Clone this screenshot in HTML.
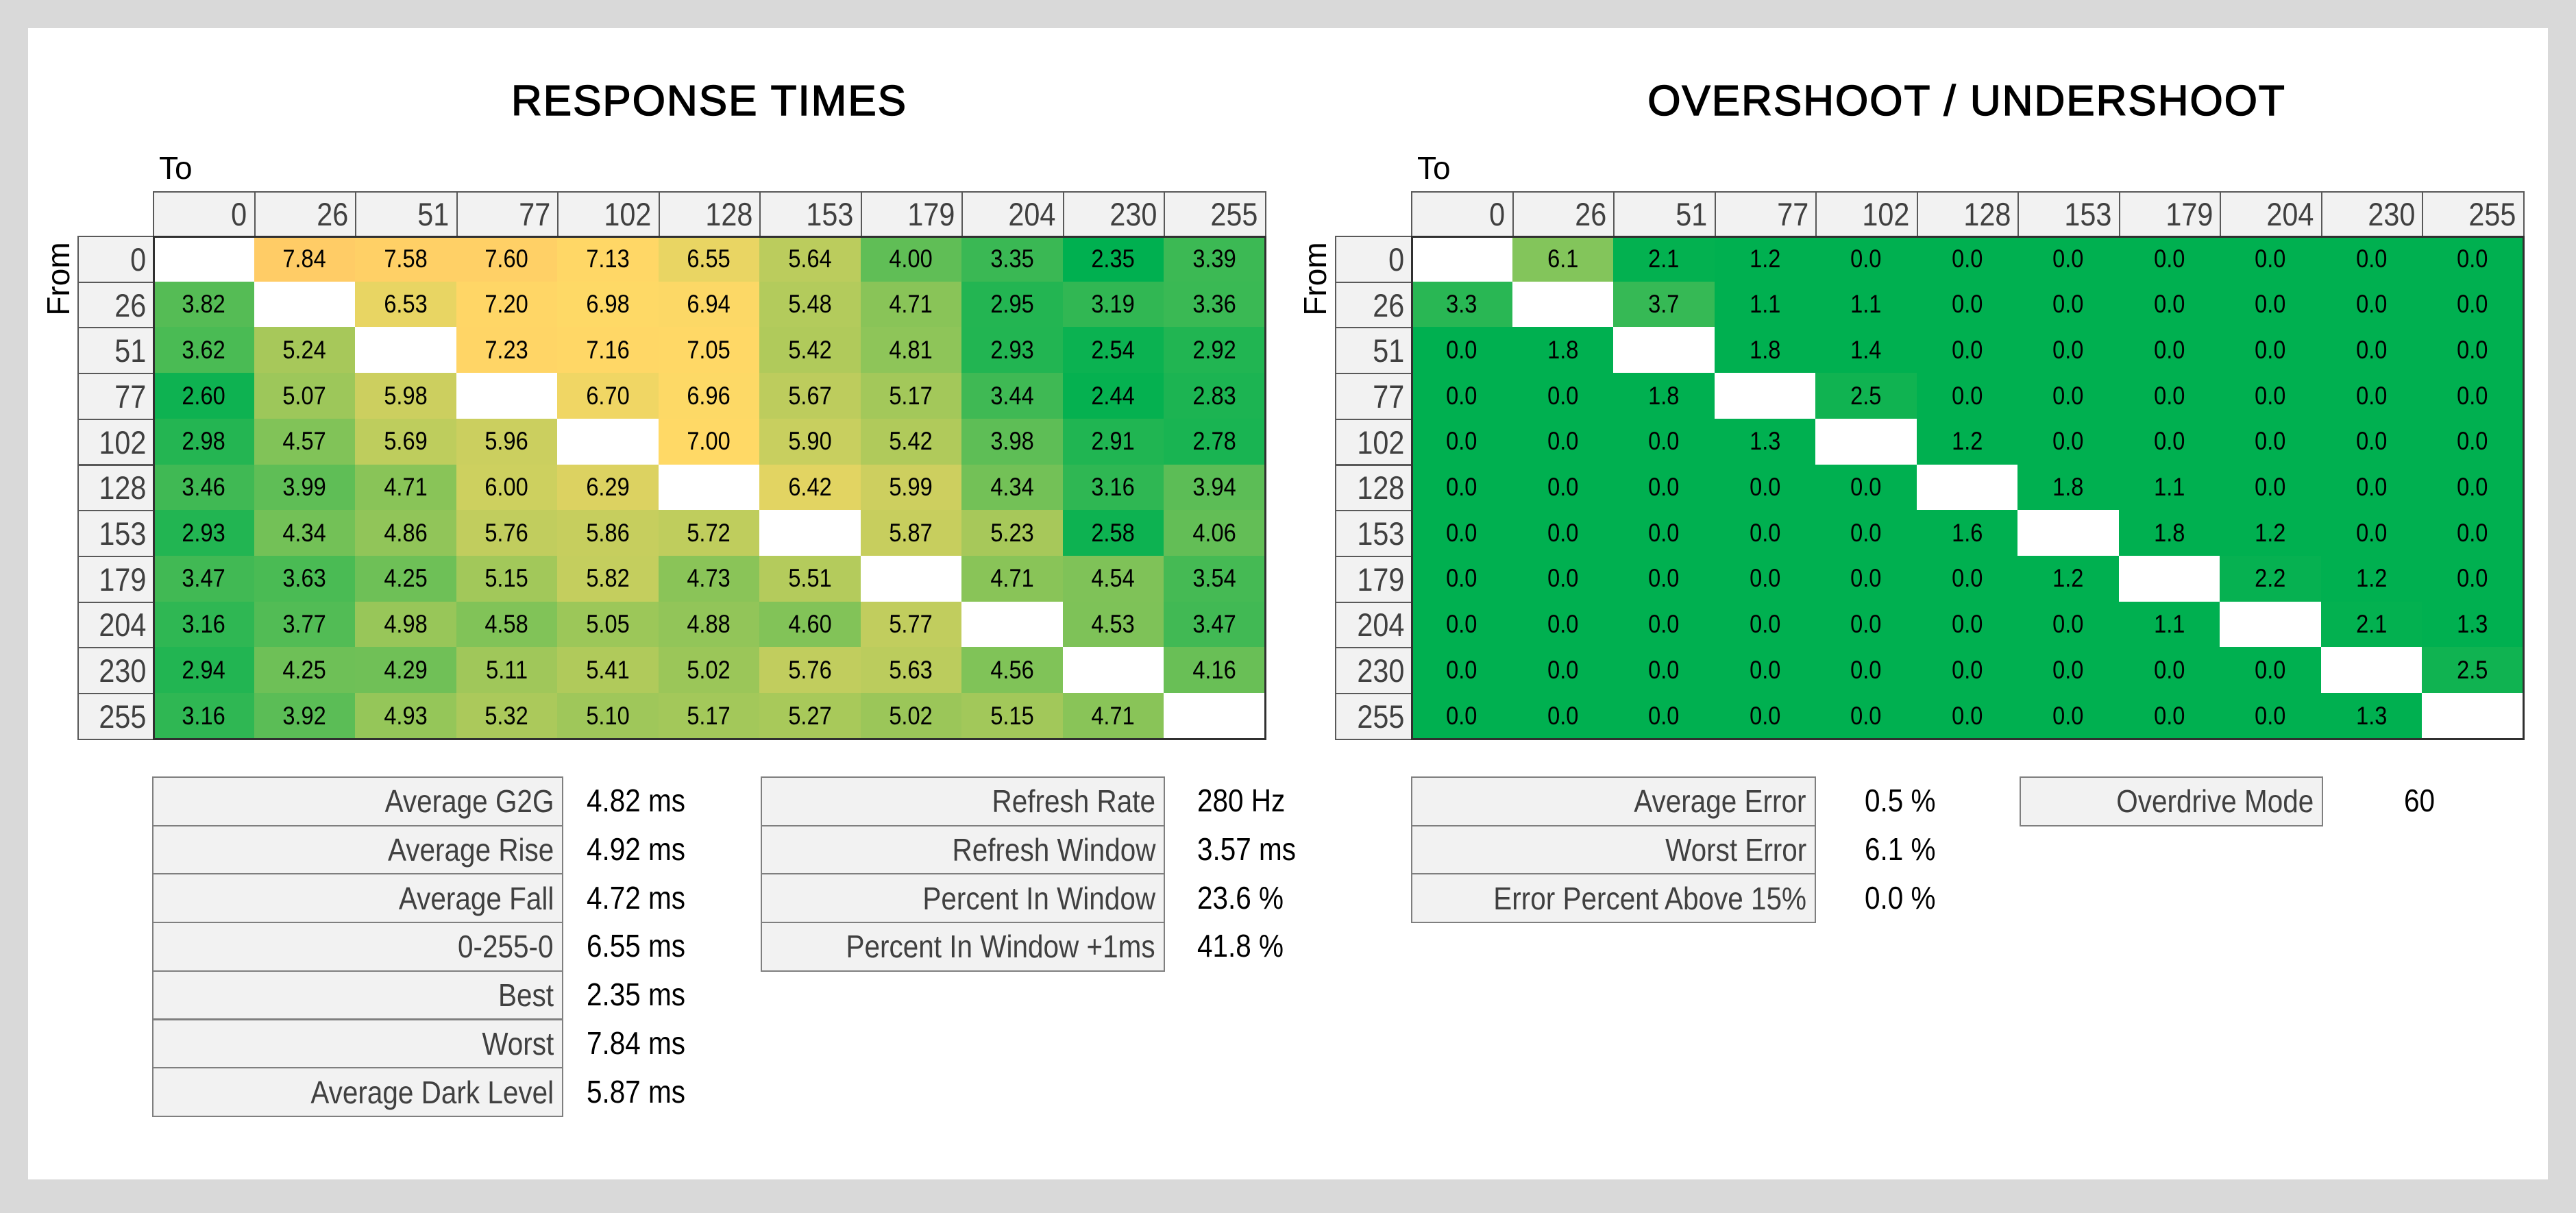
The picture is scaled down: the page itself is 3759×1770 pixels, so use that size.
<!DOCTYPE html>
<html><head><meta charset="utf-8">
<style>
html,body{margin:0;padding:0;}
body{width:3759px;height:1770px;background:#d9d9d9;position:relative;overflow:hidden;font-family:"Liberation Sans Narrow","Liberation Sans",sans-serif;}
#panel{position:absolute;left:41px;top:41px;width:3677px;height:1680px;background:#fff;}
.abs{position:absolute;box-sizing:border-box;}
.title{font-size:62px;font-weight:normal;color:#000;text-align:center;width:1400px;top:112px;letter-spacing:2px;-webkit-text-stroke:1.5px #000;}
.axis{font-size:46px;color:#000;}
.hdr{background:#f2f2f2;border:2px solid #595959;color:#404040;font-size:47px;text-align:right;padding-right:10px;display:flex;align-items:center;justify-content:flex-end;}
.cell{font-size:37px;color:#000;display:flex;align-items:center;justify-content:center;}
.frame{border:3px solid #303030;}
.lab{background:#f2f2f2;border:2px solid #7f7f7f;color:#404040;font-size:46px;display:flex;align-items:center;justify-content:flex-end;padding-right:12px;}
.val{font-size:46px;color:#000;display:flex;align-items:center;}
.sq{display:inline-block;transform:scaleX(0.88);transform-origin:center;}
.lab .sq{transform-origin:right center;}
.val .sq{transform-origin:left center;}
.hdr .sq{transform-origin:right center;}
</style></head>
<body>
<div id="panel"></div>
<div class="abs title" style="left:335px">RESPONSE TIMES</div>
<div class="abs title" style="left:2170px">OVERSHOOT / UNDERSHOOT</div>
<div class="abs axis" style="left:232px;top:218px">To</div>
<div class="abs axis" style="left:2068px;top:218px">To</div>
<div class="abs axis" style="left:30px;top:380px;width:110px;text-align:center;transform:rotate(-90deg)">From</div>
<div class="abs axis" style="left:1864px;top:380px;width:110px;text-align:center;transform:rotate(-90deg)">From</div>
<div id="root"></div>
<script>
const levels=["0","26","51","77","102","128","153","179","204","230","255"];
const rtValues=[
[null,7.84,7.58,7.60,7.13,6.55,5.64,4.00,3.35,2.35,3.39],
[3.82,null,6.53,7.20,6.98,6.94,5.48,4.71,2.95,3.19,3.36],
[3.62,5.24,null,7.23,7.16,7.05,5.42,4.81,2.93,2.54,2.92],
[2.60,5.07,5.98,null,6.70,6.96,5.67,5.17,3.44,2.44,2.83],
[2.98,4.57,5.69,5.96,null,7.00,5.90,5.42,3.98,2.91,2.78],
[3.46,3.99,4.71,6.00,6.29,null,6.42,5.99,4.34,3.16,3.94],
[2.93,4.34,4.86,5.76,5.86,5.72,null,5.87,5.23,2.58,4.06],
[3.47,3.63,4.25,5.15,5.82,4.73,5.51,null,4.71,4.54,3.54],
[3.16,3.77,4.98,4.58,5.05,4.88,4.60,5.77,null,4.53,3.47],
[2.94,4.25,4.29,5.11,5.41,5.02,5.76,5.63,4.56,null,4.16],
[3.16,3.92,4.93,5.32,5.10,5.17,5.27,5.02,5.15,4.71,null]];
const osValues=[
[null,6.1,2.1,1.2,0,0,0,0,0,0,0],
[3.3,null,3.7,1.1,1.1,0,0,0,0,0,0],
[0,1.8,null,1.8,1.4,0,0,0,0,0,0],
[0,0,1.8,null,2.5,0,0,0,0,0,0],
[0,0,0,1.3,null,1.2,0,0,0,0,0],
[0,0,0,0,0,null,1.8,1.1,0,0,0],
[0,0,0,0,0,1.6,null,1.8,1.2,0,0],
[0,0,0,0,0,0,1.2,null,2.2,1.2,0],
[0,0,0,0,0,0,0,1.1,null,2.1,1.3],
[0,0,0,0,0,0,0,0,0,null,2.5],
[0,0,0,0,0,0,0,0,0,1.3,null]];
const rtStatLabels=["Average G2G","Average Rise","Average Fall","0-255-0","Best","Worst","Average Dark Level"];
const rtStatValues=["4.82 ms","4.92 ms","4.72 ms","6.55 ms","2.35 ms","7.84 ms","5.87 ms"];
const refLabels=["Refresh Rate","Refresh Window","Percent In Window","Percent In Window +1ms"];
const refValues=["280 Hz","3.57 ms","23.6 %","41.8 %"];
const errLabels=["Average Error","Worst Error","Error Percent Above 15%"];
const errValues=["0.5 %","6.1 %","0.0 %"];
const odLabels=["Overdrive Mode"];
const odValues=["60"];

const root=document.getElementById('root');
function mk(cls,style,text){const d=document.createElement('div');d.className='abs '+cls;Object.assign(d.style,style);if(text!==undefined&&text!==''){const s=document.createElement('span');s.className='sq';s.textContent=text;d.appendChild(s);}root.appendChild(d);return d;}
function lerp(a,b,t){return a.map((v,i)=>Math.round(v+(b[i]-v)*t));}
const G=[0,176,80],M=[165,200,90],Y=[255,217,102],O=[255,204,102];
function rtColor(v){
  if(v<=5.2){const t=Math.max(0,(v-2.35)/(5.2-2.35));return lerp(G,M,t);}
  if(v<=7.0){const t=(v-5.2)/1.8;return lerp(M,Y,t);}
  const t=Math.min(1,(v-7.0)/0.84);return lerp(Y,O,t);}
function osColor(v){const t=Math.min(1,Math.max(0,(v-2)/8));return lerp(G,Y,t);}
const COLW=147.5,ROWH=66.7,HT=279,HB=344;
function grid(left,labLeft,vals,colorFn,dec,prefix){
  levels.forEach((l,i)=>{
    const h=mk('hdr',{left:(left+i*COLW)+'px',top:HT+'px',width:(COLW+2)+'px',height:(HB-HT+2)+'px'},l);
    
    
    const r=mk('hdr',{left:labLeft+'px',top:(HB+i*ROWH)+'px',width:(left-labLeft+2)+'px',height:(ROWH+2)+'px'},l);
    
    
  });
  vals.forEach((row,ri)=>row.forEach((v,ci)=>{
    const st={left:(left+ci*COLW)+'px',top:(HB+ri*ROWH)+'px',width:(COLW+0.5)+'px',height:(ROWH+0.5)+'px'};
    if(v===null){st.background='#fff';}else{const c=colorFn(v);st.background='rgb('+c.join(',')+')';}
    const d=mk('cell',st,v===null?'':v.toFixed(dec));
    
    
  }));
  const f=mk('frame',{left:left+'px',top:HB+'px',width:(11*COLW+2)+'px',height:(11*ROWH+2)+'px'});
  
  
}
grid(223,113,rtValues,rtColor,2,'rt');
grid(2059,1948,osValues,osColor,1,'os');
function stats(left,width,valLeft,labels,values,prefix){
  const top=1133,h=70.7;
  labels.forEach((t,i)=>{
    const l=mk('lab',{left:left+'px',top:(top+i*h)+'px',width:width+'px',height:(h+2)+'px'},t);
    
    
    const v=mk('val',{left:valLeft+'px',top:(top+i*h)+'px',height:h+'px',width:'300px'},values[i]);
    
    
  });
}
stats(222,600,856,rtStatLabels,rtStatValues,'rt-stat');
stats(1110,590,1747,refLabels,refValues,'refresh-stat');
stats(2059,591,2721,errLabels,errValues,'error-stat');
stats(2947,443,3508,odLabels,odValues,'overdrive-stat');
</script>
</body></html>
